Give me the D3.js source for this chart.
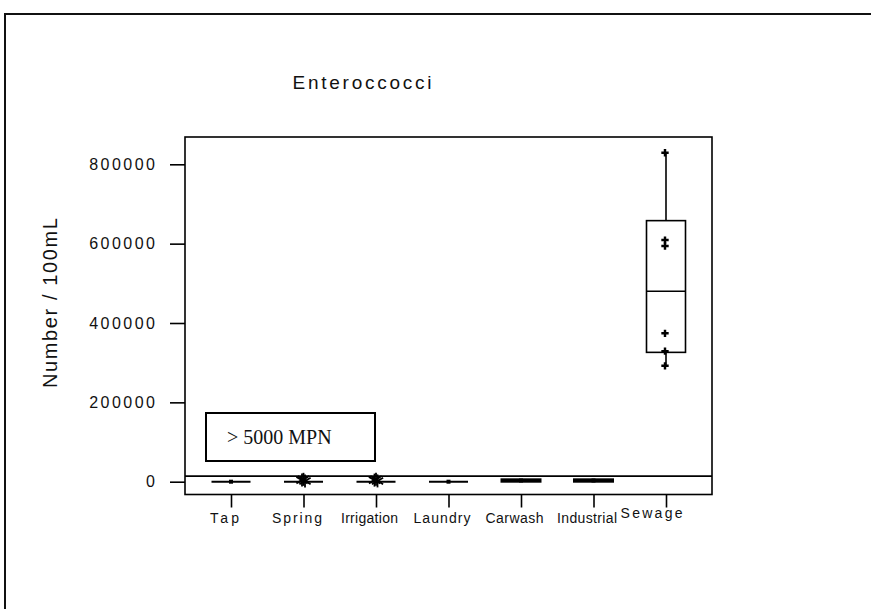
<!DOCTYPE html>
<html>
<head>
<meta charset="utf-8">
<script src="https://cdn.jsdelivr.net/npm/d3@7"></script>
<style>
  body { margin: 0; background: #fff; }
  text { font-family: "Liberation Sans", Arial, sans-serif; fill: #111; }
</style>
</head>
<body>
<script>
// values
const categories = ["Tap", "Spring", "Irrigation", "Laundry", "Carwash", "Industrial", "Sewage"];
const q1 = [0, 0, 0, 0, 0, 0, 326000];
const median = [0, 0, 0, 0, 3000, 3000, 480000];
const q3 = [0, 0, 0, 0, 6000, 6000, 658000];
const whiskerLo = [0, 0, 0, 0, 0, 0, 292000];
const whiskerHi = [0, 0, 0, 0, 6000, 6000, 829000];
const dots = [[0], [], [], [0], [3000], [3000], [829000, 609000, 594000, 374000, 329000, 292000]];
const outliers = [[], [4000, 6000, 2000], [4000, 6000, 2000], [], [], [], []];
const yTicks = [0, 200000, 400000, 600000, 800000];
const threshold = 14000;
const title = "Enteroccocci";
const yLabel = "Number / 100mL";
const noteLabel = "> 5000 MPN";

const width = 871, height = 609;
const frame = { left: 185, right: 712, top: 137, bottom: 494.5 };

const svg = d3.select("body").append("svg")
  .attr("width", width)
  .attr("height", height);

// outer border
svg.append("rect")
  .attr("x", 5).attr("y", 14)
  .attr("width", width + 20).attr("height", height + 20)
  .attr("fill", "none").attr("stroke", "#111").attr("stroke-width", 2);

const x = d3.scalePoint()
  .domain(categories)
  .range([231, 666]);

const y = d3.scaleLinear()
  .domain([0, 800000])
  .range([481.7, 164.3]);

const boxW = 39;

// plot frame
svg.append("rect")
  .attr("x", frame.left).attr("y", frame.top)
  .attr("width", frame.right - frame.left).attr("height", frame.bottom - frame.top)
  .attr("fill", "none").attr("stroke", "#000").attr("stroke-width", 1.6);

// y axis ticks
const yAxis = d3.axisLeft(y)
  .tickValues(yTicks)
  .tickSize(15)
  .tickPadding(15)
  .tickFormat(d3.format("d"));
const gy = svg.append("g")
  .attr("transform", `translate(${frame.left},0)`)
  .call(yAxis);
gy.select(".domain").remove();
gy.selectAll(".tick line").attr("stroke", "#000").attr("stroke-width", 1.6);
gy.selectAll(".tick text")
  .style("font-size", "16px")
  .attr("fill", "#111")
  .attr("textLength", d => String(d).length * 11.3 - 2)
  .attr("lengthAdjust", "spacing");

// x axis ticks
const xAxis = d3.axisBottom(x)
  .tickSize(13)
  .tickPadding(6);
const gx = svg.append("g")
  .attr("transform", `translate(0,${frame.bottom})`)
  .call(xAxis);
gx.select(".domain").remove();
gx.selectAll(".tick line").attr("stroke", "#000").attr("stroke-width", 1.6);
gx.selectAll(".tick text")
  .style("font-size", "14px")
  .attr("fill", "#111")
  .attr("dx", d => d === "Sewage" ? -15 : -7)
  .attr("dy", d => d === "Sewage" ? "0.35em" : "0.71em")
  .attr("textLength", d => ({ Tap: 29, Spring: 50, Irrigation: 57, Laundry: 57, Carwash: 58, Industrial: 60, Sewage: 62 })[d])
  .attr("lengthAdjust", "spacing");

// title and y label
svg.append("text")
  .attr("x", 362).attr("y", 89)
  .attr("text-anchor", "middle")
  .style("font-size", "19px")
  .attr("textLength", 139).attr("lengthAdjust", "spacing")
  .text(title);

svg.append("text")
  .attr("transform", "translate(57,303) rotate(-90)")
  .attr("text-anchor", "middle")
  .style("font-size", "20px")
  .attr("textLength", 170).attr("lengthAdjust", "spacing")
  .text(yLabel);

// threshold line
svg.append("line")
  .attr("x1", frame.left).attr("x2", frame.right)
  .attr("y1", y(threshold)).attr("y2", y(threshold))
  .attr("stroke", "#000").attr("stroke-width", 1.6);

// boxes
const g = svg.append("g");
categories.forEach((c, i) => {
  const cx = x(c);
  const sw = c === "Sewage" ? 1.6 : 2;
  // whiskers
  g.append("line")
    .attr("x1", cx).attr("x2", cx)
    .attr("y1", y(whiskerHi[i])).attr("y2", y(q3[i]))
    .attr("stroke", "#000").attr("stroke-width", 1.6);
  g.append("line")
    .attr("x1", cx).attr("x2", cx)
    .attr("y1", y(q1[i])).attr("y2", y(whiskerLo[i]))
    .attr("stroke", "#000").attr("stroke-width", 1.6);
  // box
  g.append("rect")
    .attr("x", cx - boxW / 2).attr("width", boxW)
    .attr("y", y(q3[i])).attr("height", y(q1[i]) - y(q3[i]))
    .attr("fill", "none").attr("stroke", "#000").attr("stroke-width", sw);
  // median
  g.append("line")
    .attr("x1", cx - boxW / 2).attr("x2", cx + boxW / 2)
    .attr("y1", y(median[i])).attr("y2", y(median[i]))
    .attr("stroke", "#000").attr("stroke-width", sw);
  // data points
  dots[i].forEach(v => {
    if (c === "Sewage") {
      g.append("path")
        .attr("d", d3.symbol(d3.symbolCross, 30)())
        .attr("transform", `translate(${cx - 1},${y(v)})`)
        .attr("fill", "#000");
    } else {
      g.append("rect")
        .attr("x", cx - 2).attr("y", y(v) - 2)
        .attr("width", 4).attr("height", 4)
        .attr("fill", "#000");
    }
  });
  // outliers as asterisks
  outliers[i].forEach((v, k) => {
    const oy = y(v), ox = cx + (k - 1) * 1.5, r = 6.5;
    [0, 60, 120].forEach(a => {
      const t = a * Math.PI / 180;
      g.append("line")
        .attr("x1", ox - r * Math.sin(t)).attr("x2", ox + r * Math.sin(t))
        .attr("y1", oy - r * Math.cos(t)).attr("y2", oy + r * Math.cos(t))
        .attr("stroke", "#000").attr("stroke-width", 1.8);
    });
  });
});

// note box
svg.append("rect")
  .attr("x", 206).attr("y", 413)
  .attr("width", 169).attr("height", 48)
  .attr("fill", "#fff").attr("stroke", "#000").attr("stroke-width", 2);
svg.append("text")
  .attr("x", 227).attr("y", 444)
  .style("font-family", "'Liberation Serif', 'Times New Roman', serif")
  .style("font-size", "20px")
  .attr("fill", "#000")
  .text(noteLabel);
</script>
</body>
</html>
